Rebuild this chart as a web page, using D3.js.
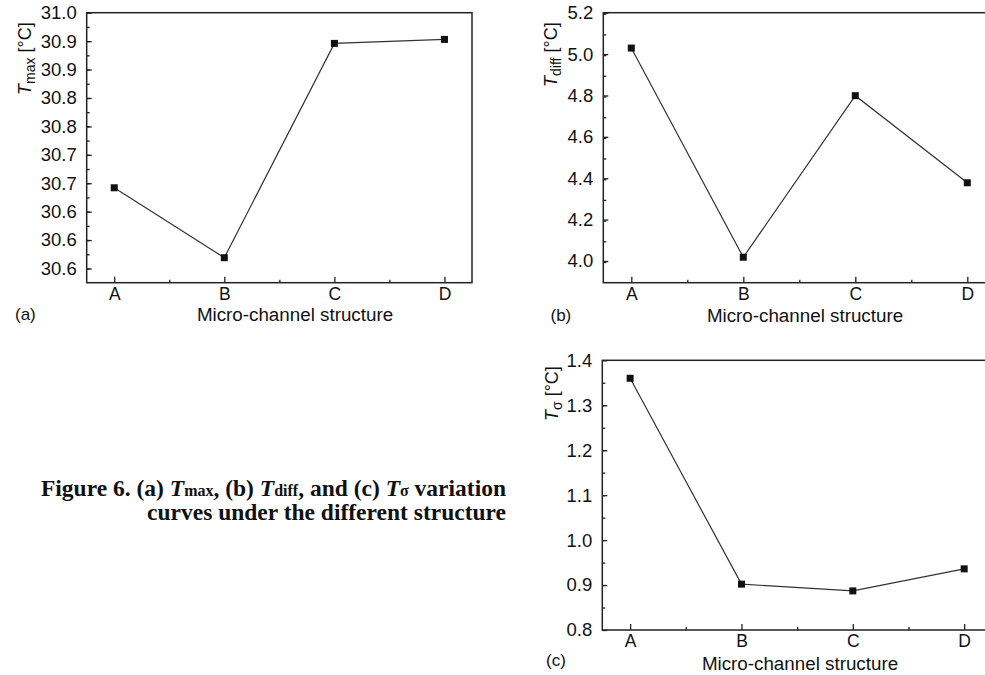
<!DOCTYPE html>
<html>
<head>
  <meta charset="utf-8">
  <title>Micro-channel structure curves</title>
  <style>
    body { margin: 0; background: #fff; overflow: hidden; }
    svg { display: block; }
    .tick text { font-family: "Liberation Sans", Arial, sans-serif; fill: #111; }
  </style>
</head>
<body>
<script src="https://cdn.jsdelivr.net/npm/d3@7"></script>
<script>
  // data
  var categories = ["A", "B", "C", "D"];
  var tmaxValues   = [30.692, 30.569, 30.946, 30.953];
  var tdiffValues  = [5.029, 4.018, 4.799, 4.378];
  var tsigmaValues = [1.360, 0.902, 0.887, 0.936];

  // y tick values and the labels printed next to them
  var tmaxTicks = [30.55, 30.60, 30.65, 30.70, 30.75, 30.80, 30.85, 30.90, 30.95, 31.00];
  var tmaxTickLabels = ["30.6", "30.6", "30.6", "30.7", "30.7", "30.8", "30.8", "30.9", "30.9", "31.0"];
  var tdiffTicks = [4.0, 4.2, 4.4, 4.6, 4.8, 5.0, 5.2];
  var tsigmaTicks = [0.8, 0.9, 1.0, 1.1, 1.2, 1.3, 1.4];

  var W = 985, H = 675;
  var font = '"Liberation Sans", Arial, sans-serif';

  var svg = d3.select("body").append("svg")
    .attr("width", W)
    .attr("height", H);

  var panels = [
    { letter: "(a)", sub: "max",  values: tmaxValues,  ticks: tmaxTicks, labels: tmaxTickLabels,
      domain: [30.525, 31.0], minorStep: 0.025,
      left: 86.7, right: 472, top: 12.7, bottom: 282.7,
      titleX: 31, titleY: 95, letterX: 15, letterY: 320, xlabelX: 295, xlabelY: 320.5 },
    { letter: "(b)", sub: "diff", values: tdiffValues, ticks: tdiffTicks, labels: null,
      domain: [3.895, 5.2], minorStep: 0.1,
      left: 603.3, right: 995.3, top: 12.7, bottom: 282.7,
      titleX: 557, titleY: 87, letterX: 550.5, letterY: 321, xlabelX: 805, xlabelY: 321.5 },
    { letter: "(c)", sub: "\u03c3",  values: tsigmaValues, ticks: tsigmaTicks, labels: null,
      domain: [0.8, 1.4], minorStep: 0.05,
      left: 602.3, right: 992, top: 360.3, bottom: 630,
      titleX: 558, titleY: 421, letterX: 546, letterY: 665.5, xlabelX: 800, xlabelY: 670 }
  ];

  panels.forEach(function(p) {
    var g = svg.append("g");

    var x = d3.scalePoint()
      .domain(categories)
      .range([p.left, p.right])
      .padding(0.25);

    var y = d3.scaleLinear()
      .domain(p.domain)
      .range([p.bottom, p.top]);

    // minor ticks halfway between categories
    var xi = d3.scaleLinear()
      .domain([0, categories.length - 1])
      .range([x(categories[0]), x(categories[categories.length - 1])]);

    // frame
    g.append("rect")
      .attr("x", p.left)
      .attr("y", p.top)
      .attr("width", p.right - p.left)
      .attr("height", p.bottom - p.top)
      .attr("fill", "none")
      .attr("stroke", "#222")
      .attr("stroke-width", 1.5);

    // y axis, ticks pointing in
    var yAxis = d3.axisLeft(y)
      .tickValues(p.ticks)
      .tickSizeInner(-5)
      .tickSizeOuter(0)
      .tickPadding(10)
      .tickFormat(function(d, i) { return p.labels ? p.labels[i] : d3.format(".1f")(d); });

    var yg = g.append("g")
      .attr("transform", "translate(" + p.left + ",0)")
      .call(yAxis);
    yg.select(".domain").remove();
    yg.selectAll("line").attr("stroke", "#222").attr("stroke-width", 1.3);
    yg.selectAll("text").style("font-size", "18.5px");

    var minorY = d3.range(p.domain[0], p.domain[1] + 1e-9, p.minorStep)
      .filter(function(v) { return v > p.domain[0] + 1e-6 && v < p.domain[1] - 1e-6; });
    var ymg = g.append("g")
      .attr("transform", "translate(" + p.left + ",0)")
      .call(d3.axisLeft(y).tickValues(minorY).tickSizeInner(-3).tickSizeOuter(0).tickFormat(""));
    ymg.select(".domain").remove();
    ymg.selectAll("line").attr("stroke", "#222").attr("stroke-width", 1.3);

    // x axis
    var xg = g.append("g")
      .attr("transform", "translate(0," + p.bottom + ")")
      .call(d3.axisBottom(x).tickSizeInner(-6).tickSizeOuter(0).tickPadding(5));
    xg.select(".domain").remove();
    xg.selectAll("line").attr("stroke", "#222").attr("stroke-width", 1.3);
    xg.selectAll("text").style("font-size", "17.5px");

    var xmg = g.append("g")
      .attr("transform", "translate(0," + p.bottom + ")")
      .call(d3.axisBottom(xi).tickValues([0.5, 1.5, 2.5]).tickSizeInner(-3).tickSizeOuter(0).tickFormat(""));
    xmg.select(".domain").remove();
    xmg.selectAll("line").attr("stroke", "#222").attr("stroke-width", 1.3);

    // line and markers
    var pts = categories.map(function(c, i) { return { c: c, v: p.values[i] }; });

    g.append("path")
      .datum(pts)
      .attr("fill", "none")
      .attr("stroke", "#333")
      .attr("stroke-width", 1.2)
      .attr("d", d3.line()
        .x(function(d) { return x(d.c); })
        .y(function(d) { return y(d.v); }));

    g.selectAll("rect.pt")
      .data(pts)
      .enter()
      .append("rect")
      .attr("class", "pt")
      .attr("x", function(d) { return x(d.c) - 3.5; })
      .attr("y", function(d) { return y(d.v) - 3.5; })
      .attr("width", 7)
      .attr("height", 7)
      .attr("fill", "#111");

    // y title
    var t = g.append("text")
      .attr("transform", "translate(" + p.titleX + "," + p.titleY + ") rotate(-90)")
      .style("font-family", font)
      .style("font-size", "18px")
      .attr("fill", "#111");
    t.append("tspan").style("font-style", "italic").text("T");
    t.append("tspan").attr("dy", 4).style("font-size", "14px").text(p.sub);
    t.append("tspan").attr("dy", -4).text(" [\u00b0C]");

    // x title and panel letter
    g.append("text")
      .attr("x", p.xlabelX)
      .attr("y", p.xlabelY)
      .attr("text-anchor", "middle")
      .style("font-family", font)
      .style("font-size", "18.8px")
      .attr("fill", "#111")
      .text("Micro-channel structure");

    g.append("text")
      .attr("x", p.letterX)
      .attr("y", p.letterY)
      .style("font-family", font)
      .style("font-size", "17px")
      .attr("fill", "#111")
      .text(p.letter);
  });

  // caption
  var cap = svg.append("g")
    .style("font-family", '"Liberation Serif", "Times New Roman", serif')
    .style("font-weight", "bold")
    .attr("fill", "#111");

  var l1 = cap.append("text")
    .attr("x", 506)
    .attr("y", 496)
    .attr("text-anchor", "end")
    .style("font-size", "23.5px");
  l1.append("tspan").text("Figure 6. (a) ");
  l1.append("tspan").style("font-style", "italic").text("T");
  l1.append("tspan").style("font-size", "16px").text("max");
  l1.append("tspan").text(", (b) ");
  l1.append("tspan").style("font-style", "italic").text("T");
  l1.append("tspan").style("font-size", "16px").text("diff");
  l1.append("tspan").text(", and (c) ");
  l1.append("tspan").style("font-style", "italic").text("T");
  l1.append("tspan").style("font-size", "16px").text("\u03c3");
  l1.append("tspan").text(" variation");

  cap.append("text")
    .attr("x", 506)
    .attr("y", 520)
    .attr("text-anchor", "end")
    .style("font-size", "23.5px")
    .text("curves under the different structure");
</script>
</body>
</html>
